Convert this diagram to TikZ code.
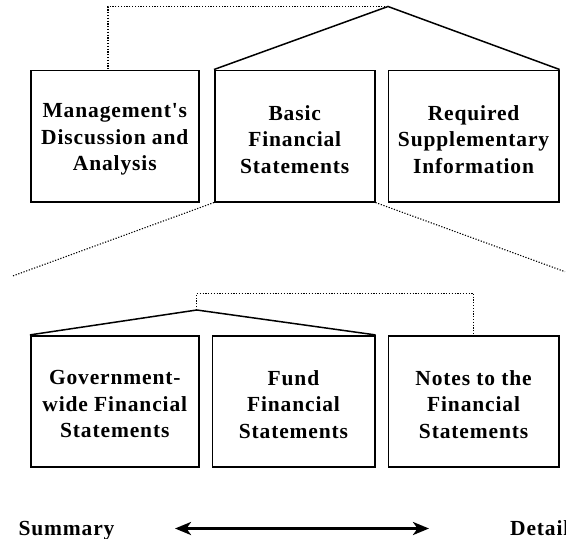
\documentclass[tikz,border=0pt]{standalone}
\usepackage{fontspec}
\setmainfont{Liberation Serif}[LetterSpace=4,Ligatures=TeXOff]
\usetikzlibrary{arrows.meta}
\tikzset{bigtip/.tip={Stealth[length=16pt,width=13pt,inset=4.5pt]}}
\begin{document}
\begin{tikzpicture}[x=1pt,y=-1pt,
  box/.style={draw,line width=1.6pt,inner sep=0pt},
  txt/.style={align=center,inner sep=0pt,
    font=\fontsize{21.5}{26.5}\selectfont\bfseries},
  roof/.style={line width=1.5pt},
  dots/.style={line width=1.1pt,dash pattern=on 1.2pt off 1.6pt},
  lbl/.style={font=\fontsize{21.5}{26.5}\selectfont\bfseries,inner sep=0pt}]
\useasboundingbox (0,0) rectangle (566,539);
% top row
\node[box,minimum width=168.2pt,minimum height=131.4pt] (mda) at (114.8,136) {};
\node[box,minimum width=159.9pt,minimum height=131.4pt] (bfs) at (294.75,136) {};
\node[box,minimum width=170.4pt,minimum height=131.4pt] (rsi) at (473.6,136) {};
\node[txt] (mdat) at ([yshift=-3.5pt]mda.center) {Management's\\Discussion and\\Analysis};
\node[txt] (bfst) at ([yshift=-3.5pt]bfs.center) {Basic\\Financial\\Statements};
\node[txt] (rsit) at ([yshift=-3.5pt]rsi.center) {Required\\Supplementary\\Information};
% bottom row
\node[box,minimum width=168.2pt,minimum height=131pt] (gw) at (114.8,401.2) {};
\node[box,minimum width=162.4pt,minimum height=131pt] (fund) at (293.5,401.2) {};
\node[box,minimum width=170.4pt,minimum height=131pt] (notes) at (473.6,401.2) {};
\node[txt] (gwt) at ([yshift=-3pt]gw.center) {Government-\\wide Financial\\Statements};
\node[txt] (fundt) at ([yshift=-3pt]fund.center) {Fund\\Financial\\Statements};
\node[txt] (notest) at ([yshift=-3pt]notes.center) {Notes to the\\Financial\\Statements};
% coordinates
\coordinate (apex) at (388,6.5);
\coordinate (mdatop) at (108,70.3);
\coordinate (fanL) at (12.6,276);
\coordinate (fanR) at (565,271.7);
\coordinate (apex2) at (196.8,310);
\coordinate (turn2) at (196.8,293.3);
% top connectors
\draw[roof] (bfs.north west) -- (apex) -- (rsi.north east);
\draw[dots] (apex) -| (mdatop);
% fan
\draw[dots] (bfs.south west) -- (fanL);
\draw[dots] (bfs.south east) -- (fanR);
% bottom connectors
\draw[roof] (gw.north west) -- (apex2) -- (fund.north east);
\draw[dots] (apex2) -- (turn2) -| (notes.north);
% scale
\node[lbl,anchor=base] (sum) at (66.5,535) {Summary};
\node[lbl,anchor=base west] (det) at (510,535) {Detail};
\coordinate (aL) at (175,528.5);
\coordinate (aR) at (429,528.5);
\draw[line width=3.5pt,bigtip-bigtip] (aL) -- (aR);
\end{tikzpicture}
\end{document}
